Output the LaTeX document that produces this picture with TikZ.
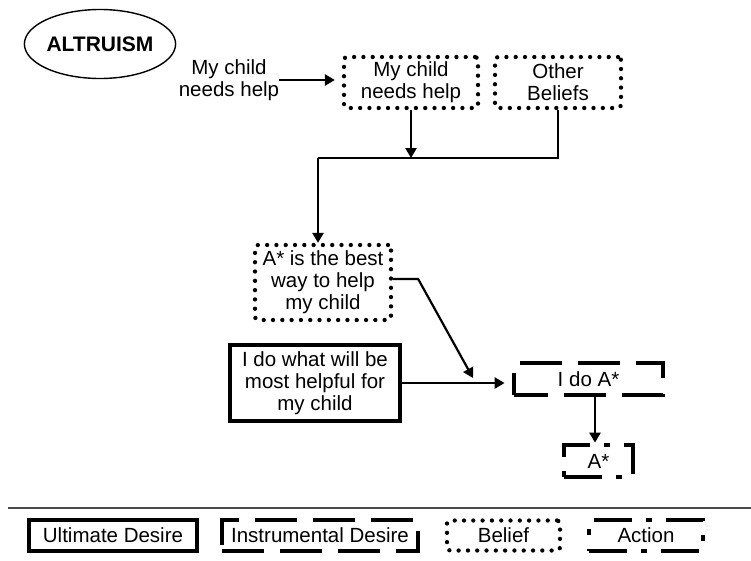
\documentclass[tikz,border=0pt]{standalone}
\usepackage{fontspec}
\setmainfont{Liberation Sans}
\usetikzlibrary{arrows.meta,shapes.geometric}
\begin{document}
\begin{tikzpicture}[x=1pt,y=-1pt,
  txt/.style={font=\fontsize{20.5}{22}\selectfont, align=center, inner sep=0pt},
  ultimate/.style={txt, draw, line width=4pt},
  instr/.style={txt, draw, line width=4.8pt, dash pattern=on 42pt off 16pt},
  belief/.style={txt, draw, line width=4.3pt, line cap=round, dash pattern=on 0pt off 9.3pt, rounded corners=3pt},
  actionbox/.style={txt, draw, line width=4.8pt, dash pattern=on 38pt off 14pt on 6pt off 14pt},
  arr/.style={line width=2.5pt, -{Triangle[length=10pt,width=11pt]}},
  conn/.style={line width=2.2pt}]
\useasboundingbox (0,0) rectangle (751,560);

% title
\node[ellipse, draw, line width=1.4pt, minimum width=133pt, minimum height=69pt, inner sep=0pt,
  font=\fontsize{21}{23}\selectfont\bfseries] (alt) at (100,44) {ALTRUISM};

% source text
\node[txt] (src) at (229,80) {My child\\needs help};

% beliefs
\node[belief, minimum width=134pt, minimum height=51pt] (b1) at (411,82.5) {My child\\needs help};
\node[belief, minimum width=126pt, minimum height=51pt] (b2) at (558,82.5) {Other\\Beliefs};
\node[belief, minimum width=136pt, minimum height=75pt] (b3) at (323,282.5) {A* is the best\\way to help\\my child};

% ultimate desire
\node[ultimate, minimum width=170pt, minimum height=76pt] (u) at (315,383) {I do what will be\\most helpful for\\my child};

% instrumental desire
\node[instr, minimum width=149pt, minimum height=32pt, dash phase=8pt] (i) at (588.5,379) {I do A*};

% action
\node[actionbox, minimum width=69pt, minimum height=32pt] (a) at (598.5,461) {A*};

% connectors
\coordinate (j) at (318,158);
\coordinate (m) at (473,378);
\draw[arr, shorten >=7pt] (src.east) -- (src.east -| b1.west);
\draw[arr] (b1.south) -- (b1.south |- j);
\draw[conn] (b2.south) -- (b2.south |- j) -- (j);
\draw[arr] (j) -- (j |- b3.north);
\draw[conn, -{Triangle[length=10pt,width=11pt]}] ([yshift=3.5pt]b3.east) -- ++(25,0) -- (m);
\draw[arr, shorten >=7pt] (u.east) -- (u.east -| i.west);
\draw[arr] ([xshift=6.5pt]i.south) -- ([xshift=6.5pt]i.south |- a.north);

% separator
\draw[line width=1.5pt, black!70] (8,508) -- (751,508);

% legend
\node[ultimate, minimum width=168pt, minimum height=31pt] (l1) at (113,535.5) {Ultimate Desire};
\node[instr, minimum width=196pt, minimum height=31pt] (l2) at (320,535.5) {Instrumental Desire};
\node[belief, minimum width=113pt, minimum height=30pt] (l3) at (503.5,535.5) {Belief};
\node[actionbox, minimum width=114pt, minimum height=31pt] (l4) at (646,535.5) {Action};
\end{tikzpicture}
\end{document}
